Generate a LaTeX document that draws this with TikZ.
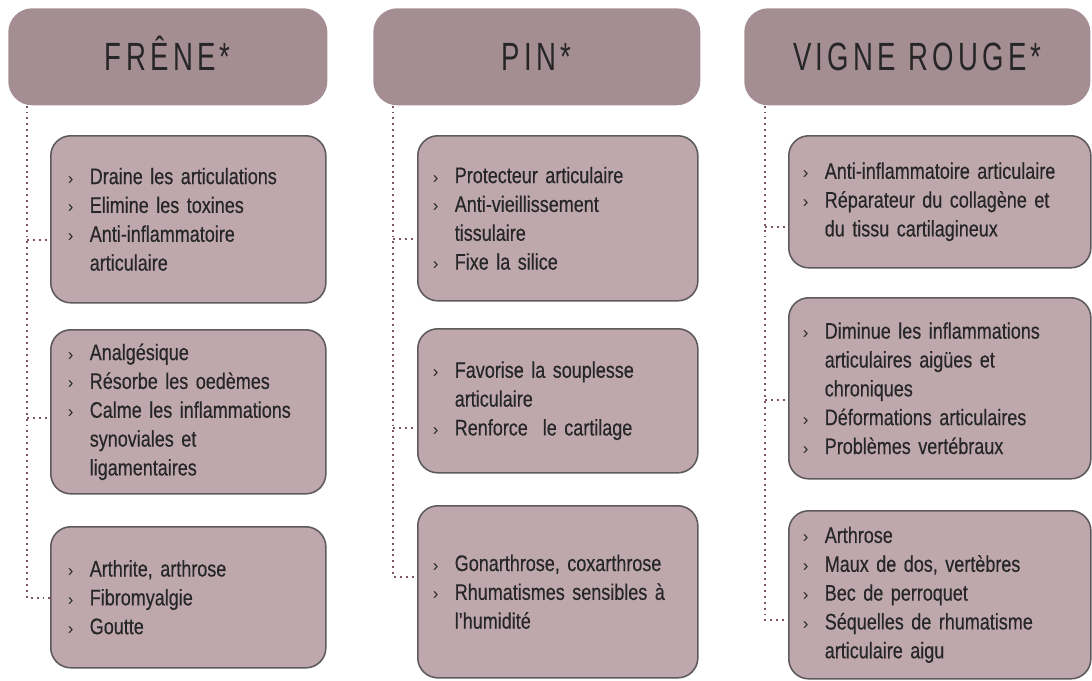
\documentclass[tikz,border=0pt]{standalone}
\usepackage{fontspec}
\setmainfont{Liberation Sans}[FakeStretch=0.8,FakeBold=0.35]
\newfontfamily\headfont{Liberation Sans}[FakeStretch=0.7,LetterSpace=11]
\newfontfamily\pucefont{Liberation Sans}
\usepackage{xcolor}
\usepackage{tikz}
\usetikzlibrary{positioning}
\definecolor{headFill}{HTML}{A48E93}
\definecolor{boxFill}{HTML}{BEA8AD}
\definecolor{boxLine}{HTML}{5E5A5B}
\definecolor{dotLine}{HTML}{7E5466}
\definecolor{ink}{HTML}{262626}
\newcommand{\puce}{\makebox[0.55cm][l]{\pucefont\fontsize{12}{12}\selectfont›}}
\newcommand{\suite}{\hspace*{0.55cm}}
\tikzset{
    head/.style={rectangle, rounded corners=0.6cm, fill=headFill, anchor=north west, minimum height=2.425cm, text=ink, font=\headfont\fontsize{28}{28}\selectfont, text height=20pt, text depth=0pt},
    box/.style={rectangle, rounded corners=0.5cm, draw=boxLine, line width=1.1pt, fill=boxFill, anchor=north west, align=left, text=ink, font=\fontsize{16}{20.5}\selectfont},
    colA/.style={box, minimum width=6.875cm, inner xsep=0.425cm, text width=6.025cm},
    colB/.style={box, minimum width=7cm, inner xsep=0.375cm, text width=6.25cm},
    colC/.style={box, minimum width=7.55cm, inner xsep=0.35cm, text width=6.85cm},
    dots/.style={draw=dotLine, line width=1.4pt, dash pattern=on 1.4pt off 2.8pt}
}

\begin{document}
\begin{tikzpicture}[x=0.025cm, y=-0.025cm]
    \useasboundingbox (0,0) rectangle (1092,680);

    % Headers
    \node[head, minimum width=7.975cm] (h1) at (8,8) {FRÊNE*};
    \node[head, minimum width=8.175cm] (h2) at (373,8) {PIN*};
    \node[head, minimum width=8.65cm] (h3) at (744,8) {VIGNE ROUGE*};

    % Frene
    \node[colA, minimum height=4.175cm] (f1) at (50,135) {\puce Draine les articulations\\ \puce Elimine les toxines\\ \puce Anti-inflammatoire\\ \suite articulaire};
    \node[colA, minimum height=4.1cm] (f2) at (50,329) {\puce Analgésique\\ \puce Résorbe les oedèmes\\ \puce Calme les inflammations\\ \suite synoviales et\\ \suite ligamentaires};
    \node[colA, minimum height=3.525cm] (f3) at (50,526) {\puce Arthrite, arthrose\\ \puce Fibromyalgie\\ \puce Goutte};

    % Pin
    \node[colB, minimum height=4.125cm] (p1) at (417,135) {\puce Protecteur articulaire\\ \puce Anti-vieillissement\\ \suite tissulaire\\ \puce Fixe la silice};
    \node[colB, minimum height=3.6cm] (p2) at (417,328) {\puce Favorise la souplesse\\ \suite articulaire\\ \puce Renforce \ le cartilage};
    \node[colB, minimum height=4.3cm] (p3) at (417,505) {\puce Gonarthrose, coxarthrose\\ \puce Rhumatismes sensibles à\\ \suite l’humidité};

    % Vigne rouge
    \node[colC, minimum height=3.3cm] (v1) at (788,135) {\puce Anti-inflammatoire articulaire\\ \puce Réparateur du collagène et\\ \suite du tissu cartilagineux};
    \node[colC, minimum height=4.525cm] (v2) at (788,297) {\puce Diminue les inflammations\\ \suite articulaires aigües et\\ \suite chroniques\\ \puce Déformations articulaires\\ \puce Problèmes vertébraux};
    \node[colC, minimum height=4.2cm] (v3) at (788,510) {\puce Arthrose\\ \puce Maux de dos, vertèbres\\ \puce Bec de perroquet\\ \puce Séquelles de rhumatisme\\ \suite articulaire aigu};

    % Dotted links
    \coordinate (s1) at ([xshift=0.475cm]h1.south west);
    \coordinate (s2) at ([xshift=0.5cm]h2.south west);
    \coordinate (s3) at ([xshift=0.525cm]h3.south west);
    \coordinate (k11) at (f1.west |- 0,240);
    \coordinate (k12) at (f2.west |- 0,418);
    \coordinate (k13) at (f3.west |- 0,598);
    \coordinate (k21) at (p1.west |- 0,239);
    \coordinate (k22) at (p2.west |- 0,428);
    \coordinate (k23) at (p3.west |- 0,577);
    \coordinate (k31) at (v1.west |- 0,227);
    \coordinate (k32) at (v2.west |- 0,400);
    \coordinate (k33) at (v3.west |- 0,620);
    \foreach \s in {1,2,3} {
        \draw[dots] (s\s) |- (k\s3);
        \draw[dots] (s\s |- k\s1) -- (k\s1);
        \draw[dots] (s\s |- k\s2) -- (k\s2);
    }
\end{tikzpicture}
\end{document}
